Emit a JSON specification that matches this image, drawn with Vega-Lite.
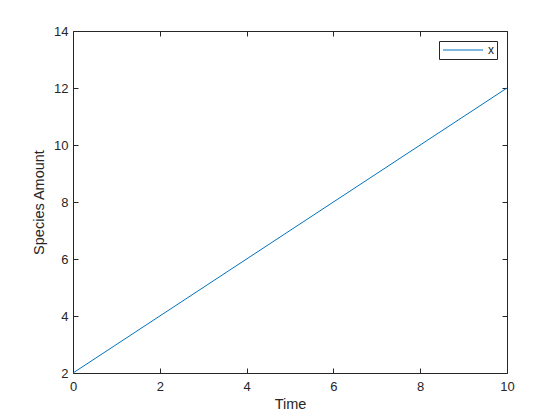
{
  "$schema": "https://vega.github.io/schema/vega-lite/v6.json",
  "width": 434,
  "height": 342,
  "autosize": {"type": "none"},
  "padding": {"left": 73, "top": 31, "right": 53, "bottom": 47},
  "background": "white",
  "config": {
    "font": "Liberation Sans",
    "view": {"stroke": "#262626", "strokeWidth": 1},
    "axis": {
      "grid": false,
      "domain": false,
      "tickSize": -5,
      "labelFlush": false,
      "labelOverlap": false,
      "tickColor": "#262626",
      "labelColor": "#262626",
      "labelFontSize": 13,
      "titleFontSize": 14.5,
      "titleFontWeight": "normal",
      "titleColor": "#262626",
      "labelFont": "Liberation Sans",
      "titleFont": "Liberation Sans"
    }
  },
  "data": {"values": [
    {"t": 0, "y": 2, "s": "x"},
    {"t": 10, "y": 12, "s": "x"}
  ]},
  "layer": [
    {
      "mark": {"type": "line", "strokeWidth": 1, "clip": true},
      "encoding": {
        "x": {"field": "t", "type": "quantitative", "scale": {"domain": [0, 10], "nice": false},
              "axis": {"title": "Time", "values": [0,2,4,6,8,10], "labelPadding": 12, "titlePadding": 4}},
        "y": {"field": "y", "type": "quantitative", "scale": {"domain": [2, 14], "nice": false, "zero": false},
              "axis": {"title": "Species Amount", "values": [2,4,6,8,10,12,14], "labelPadding": 10, "titlePadding": 7}},
        "color": {"field": "s", "type": "nominal", "scale": {"range": ["#0072BD"]},
                  "legend": {"title": null, "orient": "none", "legendX": 366, "legendY": 10,
                             "symbolType": "M-1,0H7", "symbolSize": 100, "symbolStrokeWidth": 1,
                             "strokeColor": "#262626", "padding": 3, "labelFontSize": 12,
                             "labelColor": "#262626", "fillColor": "white", "labelOffset": 34}}
      }
    },
    {
      "mark": {"type": "line", "strokeWidth": 1, "opacity": 0},
      "encoding": {
        "x": {"field": "t", "type": "quantitative", "scale": {"domain": [0, 10], "nice": false},
              "axis": {"orient": "top", "title": null, "labels": false, "values": [0,2,4,6,8,10]}},
        "y": {"field": "y", "type": "quantitative", "scale": {"domain": [2, 14], "nice": false, "zero": false},
              "axis": {"orient": "right", "title": null, "labels": false, "values": [2,4,6,8,10,12,14]}}
      }
    }
  ],
  "resolve": {"axis": {"x": "independent", "y": "independent"}}
}
